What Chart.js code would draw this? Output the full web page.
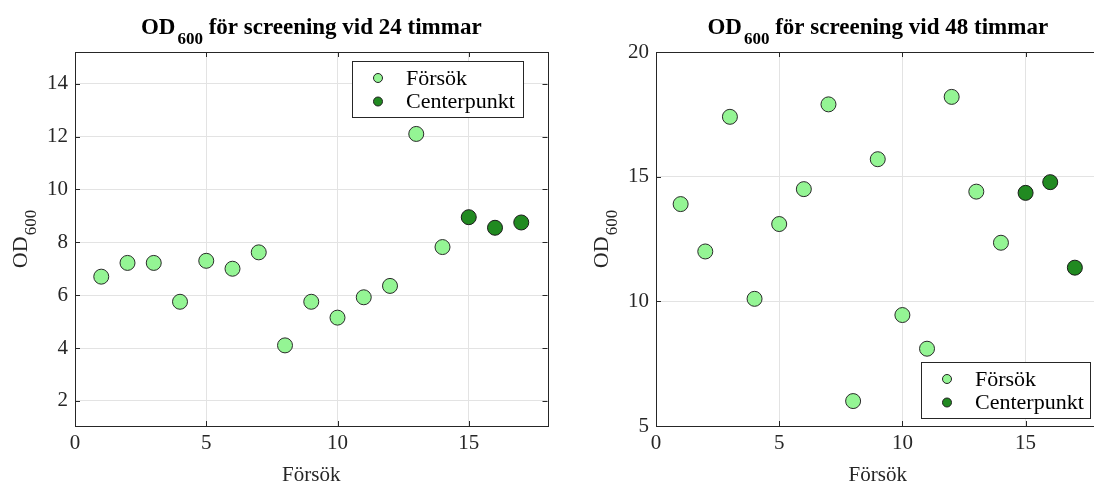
<!DOCTYPE html>
<html>
<head>
<meta charset="utf-8">
<script src="https://cdn.jsdelivr.net/npm/chart.js@4.4.1/dist/chart.umd.min.js"></script>
<style>
  html, body { margin: 0; padding: 0; background: #fff; }
  body { width: 1094px; height: 484px; overflow: hidden; position: relative; }
  .panel { position: absolute; top: 0; height: 484px; }
</style>
</head>
<body>
<div class="panel" style="left:0;width:556px"><canvas id="c24"></canvas></div>
<div class="panel" style="left:552px;width:556px"><canvas id="c48"></canvas></div>
<script>
// försöksnummer
var forsokX = [1, 2, 3, 4, 5, 6, 7, 8, 9, 10, 11, 12, 13, 14];
var centerX = [15, 16, 17];

// OD600 vid 24 timmar
var od24Forsok = [6.7, 7.22, 7.22, 5.75, 7.3, 7.0, 7.62, 4.1, 5.75, 5.15, 5.92, 6.35, 12.1, 7.82];
var od24Center = [8.95, 8.55, 8.75];

// OD600 vid 48 timmar
var od48Forsok = [13.9, 12.0, 17.4, 10.1, 13.1, 14.5, 17.9, 6.0, 15.7, 9.45, 8.1, 18.2, 14.4, 12.35];
var od48Center = [14.35, 14.78, 11.35];

var xTicks = [0, 5, 10, 15];
var yTicks24 = [2, 4, 6, 8, 10, 12, 14];
var yTicks48 = [5, 10, 15, 20];

var SERIF = '"Liberation Serif", "Times New Roman", serif';
var AXIS_COLOR = '#262626';
var LIGHT = '#94f594';
var DARK = '#218a21';

function pts(xs, ys) {
    return xs.map(function (x, i) { return { x: x, y: ys[i] }; });
}

// text med nedsänkt index, t.ex. OD_600
function drawSub(ctx, parts, x, y, align, weight) {
    var w = 0;
    parts.forEach(function (p) {
        ctx.font = weight + ' ' + p.size + 'px ' + SERIF;
        p.w = ctx.measureText(p.t).width + (p.gap || 0);
        w += p.w;
    });
    var cx = align === 'center' ? x - w / 2 : x;
    parts.forEach(function (p) {
        ctx.font = weight + ' ' + p.size + 'px ' + SERIF;
        ctx.fillText(p.t, cx + (p.gap || 0), y + (p.dy || 0));
        cx += p.w;
    });
}

var matlabAxes = {
    id: 'matlabAxes',
    afterDraw: function (chart, args, opts) {
        var ctx = chart.ctx;
        var a = chart.chartArea;
        var xs = chart.scales.x, ys = chart.scales.y;
        ctx.save();
        ctx.fillStyle = '#000';
        ctx.textBaseline = 'alphabetic';
        ctx.textAlign = 'left';

        // ruta och ticks inåt
        ctx.strokeStyle = AXIS_COLOR;
        ctx.lineWidth = 1;
        ctx.strokeRect(Math.round(a.left) + 0.5, Math.round(a.top) + 0.5,
            Math.round(a.right - a.left), Math.round(a.bottom - a.top));
        ctx.beginPath();
        ys.ticks.forEach(function (t) {
            var py = Math.round(ys.getPixelForValue(t.value)) + 0.5;
            ctx.moveTo(a.left, py); ctx.lineTo(a.left + 5, py);
            ctx.moveTo(a.right, py); ctx.lineTo(a.right - 5, py);
        });
        xs.ticks.forEach(function (t) {
            var px = Math.round(xs.getPixelForValue(t.value)) + 0.5;
            ctx.moveTo(px, a.bottom); ctx.lineTo(px, a.bottom - 5);
            ctx.moveTo(px, a.top); ctx.lineTo(px, a.top + 5);
        });
        ctx.stroke();

        // titel
        var cx = (a.left + a.right) / 2;
        drawSub(ctx, [
            { t: 'OD', size: 23 },
            { t: '600', size: 17, dy: 10, gap: 2 },
            { t: ' ' + opts.titleRest, size: 23 }
        ], cx, 34, 'center', 'bold');

        // x-etikett
        ctx.fillStyle = AXIS_COLOR;
        ctx.font = '21px ' + SERIF;
        ctx.textAlign = 'center';
        ctx.fillText('Försök', cx, 481);

        // y-etikett
        ctx.save();
        ctx.translate(opts.yLabelX, (a.top + a.bottom) / 2);
        ctx.rotate(-Math.PI / 2);
        ctx.textAlign = 'left';
        drawSub(ctx, [
            { t: 'OD', size: 22 },
            { t: '600', size: 17, dy: 9, gap: 1 }
        ], 0, 0, 'center', 'normal');
        ctx.restore();

        // legend
        var L = opts.legend;
        ctx.fillStyle = '#fff';
        ctx.fillRect(L.x, L.y, L.w, L.h);
        ctx.strokeStyle = AXIS_COLOR;
        ctx.strokeRect(L.x + 0.5, L.y + 0.5, L.w, L.h);
        chart.data.datasets.forEach(function (ds, i) {
            var my = L.y + 17 + i * 23.5;
            ctx.beginPath();
            ctx.arc(L.x + 26, my, 4.5, 0, Math.PI * 2);
            ctx.fillStyle = ds.backgroundColor;
            ctx.fill();
            ctx.strokeStyle = '#222';
            ctx.stroke();
            ctx.fillStyle = '#000';
            ctx.font = '22px ' + SERIF;
            ctx.textAlign = 'left';
            ctx.textBaseline = 'middle';
            ctx.fillText(ds.label, L.x + 54, my + 1);
        });
        ctx.restore();
    }
};

function makeChart(id, forsok, center, yMin, yMax, yTicks, yWidth, opts) {
    return new Chart(document.getElementById(id), {
        type: 'scatter',
        data: {
            datasets: [
                {
                    label: 'Försök',
                    data: pts(forsokX, forsok),
                    backgroundColor: LIGHT,
                    borderColor: '#2a2a2a',
                    borderWidth: 1,
                    pointRadius: 7.5
                },
                {
                    label: 'Centerpunkt',
                    data: pts(centerX, center),
                    backgroundColor: DARK,
                    borderColor: '#1a1a1a',
                    borderWidth: 1,
                    pointRadius: 7.5
                }
            ]
        },
        options: {
            responsive: false,
            animation: false,
            devicePixelRatio: 1,
            layout: { padding: { top: 52, right: 4, left: 0, bottom: 0 } },
            plugins: {
                legend: { display: false },
                tooltip: { enabled: false },
                matlabAxes: opts
            },
            scales: {
                x: {
                    type: 'linear',
                    min: 0, max: 18,
                    afterBuildTicks: function (s) { s.ticks = xTicks.map(function (v) { return { value: v }; }); },
                    afterFit: function (s) { s.height = 58; },
                    grid: { color: '#e3e3e3', drawTicks: false },
                    border: { display: false },
                    ticks: { color: AXIS_COLOR, padding: 5, font: { family: SERIF, size: 21 } }
                },
                y: {
                    min: yMin, max: yMax,
                    afterBuildTicks: function (s) { s.ticks = yTicks.map(function (v) { return { value: v }; }); },
                    afterFit: function (s) { s.width = yWidth; },
                    grid: { color: '#e3e3e3', drawTicks: false },
                    border: { display: false },
                    ticks: { color: AXIS_COLOR, padding: 7, font: { family: SERIF, size: 21 } }
                }
            }
        },
        plugins: [matlabAxes]
    });
}

document.getElementById('c24').width = 556;
document.getElementById('c24').height = 484;
document.getElementById('c48').width = 556;
document.getElementById('c48').height = 484;

makeChart('c24', od24Forsok, od24Center, 1.05, 15.2, yTicks24, 75, {
    titleRest: 'för screening vid 24 timmar',
    yLabelX: 27,
    legend: { x: 352, y: 61, w: 171, h: 56 }
});
makeChart('c48', od48Forsok, od48Center, 5, 20, yTicks48, 104, {
    titleRest: 'för screening vid 48 timmar',
    yLabelX: 56,
    legend: { x: 369, y: 362, w: 169, h: 56 }
});
</script>
</body>
</html>
